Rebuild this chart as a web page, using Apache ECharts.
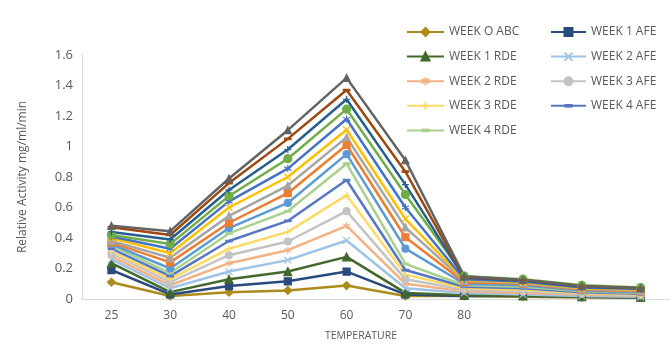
<!DOCTYPE html>
<html>
<head>
<meta charset="utf-8">
<script src="https://cdn.jsdelivr.net/npm/echarts@6/dist/echarts.min.js"></script>
<style>
html,body{margin:0;padding:0;background:#fff;}
#chart{width:670px;height:347px;}
</style>
</head>
<body>
<div id="chart"></div>
<script>
// Categories (temperatures); last three points carry no label in the reference
const categories = ['25', '30', '40', '50', '60', '70', '80', '', '', ''];

// Series names (first nine appear in legend)
const seriesNames = [
  'WEEK O ABC', 'WEEK 1 AFE', 'WEEK 1 RDE', 'WEEK 2 AFE', 'WEEK 2 RDE',
  'WEEK 3 AFE', 'WEEK 3 RDE', 'WEEK 4 AFE', 'WEEK 4 RDE',
  'Series 10', 'Series 11', 'Series 12', 'Series 13', 'Series 14',
  'Series 15', 'Series 16', 'Series 17', 'Series 18'
];

// Values
const s01 = [0.11, 0.02, 0.045, 0.056, 0.088, 0.02, 0.02, 0.015, 0.01, 0.01];
const s02 = [0.19, 0.03, 0.085, 0.116, 0.18, 0.03, 0.02, 0.02, 0.015, 0.01];
const s03 = [0.235, 0.045, 0.13, 0.18, 0.276, 0.04, 0.025, 0.02, 0.015, 0.012];
const s04 = [0.26, 0.07, 0.18, 0.255, 0.384, 0.07, 0.04, 0.03, 0.02, 0.015];
const s05 = [0.28, 0.09, 0.235, 0.32, 0.48, 0.10, 0.05, 0.04, 0.03, 0.02];
const s06 = [0.30, 0.11, 0.287, 0.377, 0.576, 0.13, 0.06, 0.05, 0.035, 0.025];
const s07 = [0.31, 0.13, 0.33, 0.44, 0.68, 0.16, 0.07, 0.06, 0.04, 0.03];
const s08 = [0.33, 0.15, 0.38, 0.512, 0.78, 0.19, 0.08, 0.07, 0.045, 0.035];
const s09 = [0.35, 0.17, 0.43, 0.576, 0.887, 0.23, 0.09, 0.08, 0.05, 0.04];
const s10 = [0.36, 0.20, 0.465, 0.63, 0.95, 0.33, 0.10, 0.09, 0.055, 0.045];
const s11 = [0.37, 0.24, 0.50, 0.694, 1.01, 0.405, 0.11, 0.10, 0.06, 0.05];
const s12 = [0.38, 0.27, 0.545, 0.744, 1.06, 0.47, 0.12, 0.105, 0.065, 0.055];
const s13 = [0.40, 0.30, 0.60, 0.80, 1.11, 0.525, 0.125, 0.11, 0.07, 0.06];
const s14 = [0.41, 0.33, 0.64, 0.855, 1.18, 0.60, 0.13, 0.115, 0.075, 0.065];
const s15 = [0.42, 0.36, 0.675, 0.92, 1.245, 0.685, 0.15, 0.13, 0.09, 0.075];
const s16 = [0.44, 0.39, 0.715, 0.98, 1.31, 0.75, 0.14, 0.12, 0.08, 0.07];
const s17 = [0.47, 0.42, 0.76, 1.05, 1.37, 0.835, 0.145, 0.125, 0.085, 0.07];
const s18 = [0.48, 0.445, 0.79, 1.107, 1.45, 0.91, 0.15, 0.125, 0.085, 0.07];
const seriesValues = [s01, s02, s03, s04, s05, s06, s07, s08, s09, s10, s11, s12, s13, s14, s15, s16, s17, s18];

// Y-axis ticks
const yMin = 0, yMax = 1.6, yStep = 0.2;

const colors = [
  '#AD8A1C', '#284A7E', '#43682B', '#9DC3E6', '#F4B183', '#C3C3C3',
  '#FFD966', '#5577C4', '#A9D18E', '#5B9BD5', '#ED7D31', '#A5A5A5',
  '#FFC000', '#4472C4', '#70AD47', '#255E91', '#9E480E', '#636363'
];
const P_X = 'path://M0,0L10,10M10,0L0,10';
const P_AST = 'path://M5,0L5,10M0,2.5L10,7.5M0,7.5L10,2.5';
const P_PLUS = 'path://M5,0L5,10M0,5L10,5';
const P_DASH = 'path://M0,0L0,0M10,10L10,10M1,4L9,4L9,6L1,6Z';
const symbols = [
  'diamond', 'rect', 'triangle', P_X, P_AST, 'circle', P_PLUS, P_DASH, P_DASH,
  'circle', 'rect', 'triangle', P_X, P_AST, 'circle', P_PLUS, P_DASH, 'triangle'
];
const sizes = [8, 7, 8, 7, 7, 7, 7, 8, 8, 7, 7, 7, 7, 7, 8, 7, 8, 7];

const txt = '#595959';
const font = '"Open Sans", "Noto Sans", sans-serif';

const series = seriesNames.map((name, i) => ({
  name: name,
  type: 'line',
  data: seriesValues[i],
  symbol: symbols[i],
  symbolSize: sizes[i],
  showAllSymbol: true,
  lineStyle: { color: colors[i], width: 2.5 },
  itemStyle: { color: colors[i], borderColor: colors[i], borderWidth: 1.2 },
  emphasis: { disabled: true },
  animation: false
}));

const chart = echarts.init(document.getElementById('chart'), null, { renderer: 'canvas' });
chart.setOption({
  animation: false,
  backgroundColor: '#ffffff',
  color: colors,
  textStyle: { fontFamily: font },
  grid: { left: 82, right: -12, top: 55, bottom: 44, containLabel: false },
  legend: [
    {
      orient: 'vertical', left: 406, top: 26, padding: 0,
      itemWidth: 37, itemHeight: 10, itemGap: 12.6, itemTextGap: 4,
      data: ['WEEK O ABC', 'WEEK 1 RDE', 'WEEK 2 RDE', 'WEEK 3 RDE', 'WEEK 4 RDE'],
      textStyle: { color: txt, fontSize: 12, fontFamily: font }
    },
    {
      orient: 'vertical', left: 550, top: 26, padding: 0,
      itemWidth: 35, itemHeight: 10, itemGap: 12.6, itemTextGap: 5,
      data: ['WEEK 1 AFE', 'WEEK 2 AFE', 'WEEK 3 AFE', 'WEEK 4 AFE'],
      textStyle: { color: txt, fontSize: 12, fontFamily: font }
    }
  ],
  xAxis: {
    type: 'category',
    data: categories,
    boundaryGap: true,
    name: 'TEMPERATURE',
    nameLocation: 'middle',
    nameGap: 32,
    nameTextStyle: { color: txt, fontSize: 10.5, fontFamily: font, padding: [0, 30, 0, 0] },
    axisLine: { show: true, lineStyle: { color: '#D9D9D9', width: 1 } },
    axisTick: { show: false },
    axisLabel: { color: txt, fontSize: 12, margin: 11, fontFamily: font, interval: 0 },
    splitLine: { show: false }
  },
  yAxis: {
    type: 'value',
    min: yMin, max: yMax, interval: yStep,
    name: 'Relative Activity mg/ml/min',
    nameLocation: 'middle',
    nameGap: 53,
    nameTextStyle: { color: txt, fontSize: 12, fontFamily: font },
    axisLine: { show: true, lineStyle: { color: '#D9D9D9', width: 1 } },
    axisTick: { show: false },
    axisLabel: { color: txt, fontSize: 13, margin: 9, fontFamily: font },
    splitLine: { show: false }
  },
  series: series
});
</script>
</body>
</html>
